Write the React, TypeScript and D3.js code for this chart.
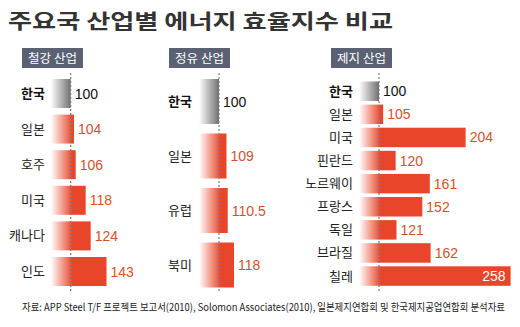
import React, { useLayoutEffect, useRef, useState } from "react";
import * as d3 from "d3";

const title = "주요국 산업별 에너지 효율지수 비교";
const source = "자료: APP Steel T/F 프로젝트 보고서(2010), Solomon Associates(2010), 일본제지연합회 및 한국제지공업연합회 분석자료";

const steelNames = ["한국", "일본", "호주", "미국", "캐나다", "인도"];
const steelValues = [100, 104, 106, 118, 124, 143];
const oilNames = ["한국", "일본", "유럽", "북미"];
const oilValues = [100, 109, 110.5, 118];
const paperNames = ["한국", "일본", "미국", "핀란드", "노르웨이", "프랑스", "독일", "브라질", "칠레"];
const paperValues = [100, 105, 204, 120, 161, 152, 121, 162, 258];

const FONT = "'Noto Sans CJK KR', 'Noto Sans', sans-serif";
const NUMFONT = "'Liberation Sans Narrow', 'Liberation Sans', Arial, sans-serif";
const ORANGE = "#e8452a";
const VALCOL = "#d4502e";

type PanelProps = {
  id: string;
  header: string;
  headerX: number;
  names: string[];
  values: number[];
  refX: number;
  top: number;
  pitch: number;
  barH: number;
  labelX: number;
};

function Panel(p: PanelProps) {
  const x = d3.scaleLinear().domain([100, 200]).range([p.refX, p.refX + 83.3]);
  const x0 = x(76);
  return (
    <g>
      <rect x={p.headerX} y={48} width={61} height={20} fill="#5a6172" />
      <text x={p.headerX + 30.5} y={62.5} textAnchor="middle" fill="#fff" fontSize={12.5} fontFamily={FONT}>
        {p.header}
      </text>
      {p.values.map((v, i) => {
        const y = p.top + i * p.pitch;
        const isKr = i === 0;
        const xe = x(v);
        const inside = xe - x0 > 110;
        return (
          <g key={i}>
            <rect x={x0} y={y} width={xe - x0} height={p.barH} fill={`url(#${isKr ? "gk" : "go"}-${p.id})`} />
            <text x={p.labelX} y={y + p.barH / 2 + 4.5} textAnchor="end" fontSize={13} fontFamily={FONT}
              fontWeight={isKr ? 700 : 400} fill={isKr ? "#111" : "#222"}>
              {p.names[i]}
            </text>
            <text x={inside ? xe - 5 : xe + 4} y={y + p.barH / 2 + 5} textAnchor={inside ? "end" : "start"}
              fontSize={14} fontFamily={NUMFONT} fill={inside ? "#fff" : isKr ? "#111" : VALCOL}>
              {v}
            </text>
          </g>
        );
      })}
      <line x1={p.refX} x2={p.refX} y1={73} y2={292} stroke="#777" strokeWidth={1.2} strokeDasharray="2,2" />
    </g>
  );
}

function Grad({ id, refX, x0, color }: { id: string; refX: number; x0: number; color: string }) {
  return (
    <linearGradient id={id} gradientUnits="userSpaceOnUse" x1={x0} x2={refX} y1={0} y2={0}>
      <stop offset="0" stopColor="#fff" />
      <stop offset="1" stopColor={color} />
    </linearGradient>
  );
}

export default function App() {
  const srcRef = useRef<SVGTextElement>(null);
  const [sx, setSx] = useState(0.68);
  useLayoutEffect(() => {
    if (srcRef.current) {
      const len = srcRef.current.getComputedTextLength();
      if (len > 0) setSx(483 / len);
    }
  }, []);
  const panels: PanelProps[] = [
    { id: "s", header: "철강 산업", headerX: 22, names: steelNames, values: steelValues, refX: 70.7, top: 79, pitch: 35.6, barH: 29, labelX: 45 },
    { id: "o", header: "정유 산업", headerX: 169, names: oilNames, values: oilValues, refX: 219, top: 79, pitch: 54.5, barH: 45, labelX: 192 },
    { id: "p", header: "제지 산업", headerX: 331, names: paperNames, values: paperValues, refX: 379, top: 81.5, pitch: 23.1, barH: 19.5, labelX: 353 },
  ];
  return (
    <svg width={520} height={327} style={{ position: "absolute", left: 0, top: 0 }}>
      <defs>
        {panels.map((p) => {
          const x0 = p.refX - 20;
          return (
            <React.Fragment key={p.id}>
              <Grad id={`go-${p.id}`} refX={p.refX + 2} x0={x0} color={ORANGE} />
              <Grad id={`gk-${p.id}`} refX={p.refX} x0={x0} color="#707070" />
            </React.Fragment>
          );
        })}
      </defs>
      <rect width={520} height={327} fill="#fff" />
      <text x={8} y={29} fontSize={20} fontWeight={700} fontFamily={FONT} fill="#333" textLength={385} lengthAdjust="spacingAndGlyphs">
        {title}
      </text>
      {panels.map((p) => (
        <Panel key={p.id} {...p} />
      ))}
      <g transform={`translate(22,311) scale(${sx},1)`}>
        <text ref={srcRef} x={0} y={0} fontSize={10.5} fontFamily={FONT} fill="#222">
          {source}
        </text>
      </g>
    </svg>
  );
}
